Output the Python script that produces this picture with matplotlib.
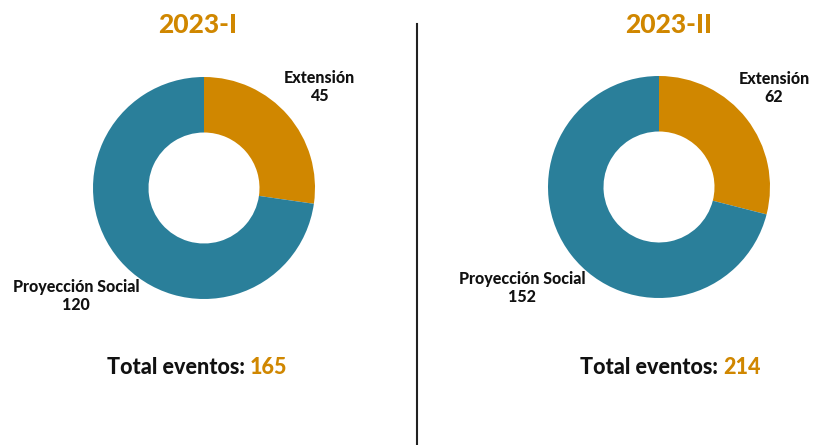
import matplotlib.pyplot as plt

# datos
periodos = ['2023-I', '2023-II']
categorias = ['Extensión', 'Proyección Social']
extension = [45, 62]
proyeccion = [120, 152]

naranja = '#D08700'
azul = '#2A7F9A'
negro = '#111111'

plt.rcParams['font.family'] = ['Lato', 'DejaVu Sans']

W, H = 818, 445
fig = plt.figure(figsize=(W / 100, H / 100), dpi=100)

# posiciones en pixeles
centros = [(204, 188), (659, 187)]
radio = 111
x_titulo = [198, 669]
lbl_ext = [(319, 87), (774, 88)]
lbl_pro = [(76, 296), (522, 288)]
x_total = [197, 670]

r = fig.canvas.get_renderer()

for i, periodo in enumerate(periodos):
    cx, cy = centros[i]
    ax = fig.add_axes([(cx - radio) / W, (H - cy - radio) / H, 2 * radio / W, 2 * radio / H])
    ax.pie([extension[i], proyeccion[i]], colors=[naranja, azul], startangle=90,
           counterclock=False, radius=1, wedgeprops=dict(width=0.5, edgecolor='none'))
    ax.set_aspect('equal')
    ax.set_xlim(-1, 1)
    ax.set_ylim(-1, 1)
    ax.axis('off')

    fig.text(x_titulo[i] / W, 1 - 25 / H, periodo, ha='center', va='center',
             fontsize=19, fontweight='black', color=naranja)
    x, y = lbl_ext[i]
    fig.text(x / W, 1 - y / H, f'{categorias[0]}\n{extension[i]}', ha='center', va='center',
             fontsize=11.5, fontweight='black', color=negro, linespacing=1.1)
    x, y = lbl_pro[i]
    fig.text(x / W, 1 - y / H, f'{categorias[1]}\n{proyeccion[i]}', ha='center', va='center',
             fontsize=11.5, fontweight='black', color=negro, linespacing=1.1)

    # total en dos colores, centrado en x_total
    total = extension[i] + proyeccion[i]
    t1 = fig.text(0, 1 - 367 / H, 'Total eventos: ', ha='left', va='center',
                  fontsize=15.5, fontweight='black', color=negro)
    t2 = fig.text(0, 1 - 367 / H, str(total), ha='left', va='center',
                  fontsize=15.5, fontweight='black', color=naranja)
    w1 = t1.get_window_extent(r).width
    w2 = t2.get_window_extent(r).width
    x0 = x_total[i] - (w1 + w2) / 2
    t1.set_x(x0 / W)
    t2.set_x((x0 + w1) / W)

# linea divisoria
fig.add_artist(plt.Line2D([417 / W, 417 / W], [0, 1 - 24 / H], color='#222222', lw=1.5))

fig.savefig('out.png', dpi=100, facecolor='white')
